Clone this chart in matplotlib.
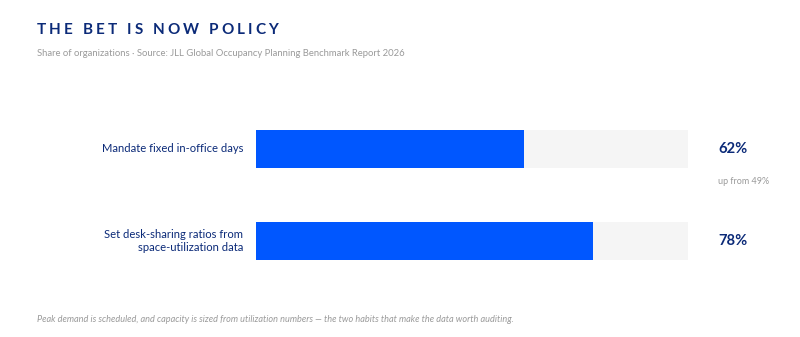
import matplotlib.pyplot as plt

plt.rcParams['font.family'] = ['Lato', 'DejaVu Sans']

labels = ['Mandate fixed in-office days', 'Set desk-sharing ratios from\nspace-utilization data']
values = [62, 78]
value_labels = ['62%', '78%']
notes = ['up from 49%', '']

NAVY = '#0b2a78'
BLUE = '#0057ff'
TRACK = '#f5f5f5'
GREY = '#9a9a9a'

W, H = 800, 337
fig = plt.figure(figsize=(W / 100, H / 100), dpi=100)

# bar area: x 256..688 px, y 130..260 px
ax = fig.add_axes([256 / W, (H - 260) / H, 432 / W, 130 / H])
h = 38 / 92
ax.barh(range(len(values)), [100] * len(values), height=h, color=TRACK)
ax.barh(range(len(values)), values, height=h, color=BLUE)
ax.set_xlim(0, 100)
ax.set_ylim(len(values) - 1 + h / 2, -h / 2)
ax.axis('off')

for i, (lab, v, vl, note) in enumerate(zip(labels, values, value_labels, notes)):
    ax.text(-13 / 4.32, i, lab, ha='right', va='center', color=NAVY,
            fontsize=8.1, linespacing=1.3)
    ax.text(100 + 30 / 4.32, i, vl, ha='left', va='center', color=NAVY,
            fontsize=10.6, fontweight='bold')
    if note:
        ax.text(100 + 30 / 4.32, i + 32 / 92, note, ha='left', va='center',
                color=GREY, fontsize=6.5)

# title with letter spacing, placed char by char
title = 'THE BET IS NOW POLICY'
fig.canvas.draw()
r = fig.canvas.get_renderer()
x = 37
for ch in title:
    t = fig.text(x / W, 1 - 34 / H, ch, fontsize=11, fontweight='bold',
                 color=NAVY, ha='left', va='baseline')
    bb = t.get_window_extent(r)
    if ch == ' ':
        w = 4
    else:
        w = bb.width
    x += w + 3.0

fig.text(37 / W, 1 - 53 / H,
         'Share of organizations \u00b7 Source: JLL Global Occupancy Planning Benchmark Report 2026',
         fontsize=6.8, color=GREY, ha='left', va='center')

fig.text(37 / W, 1 - 319 / H,
         'Peak demand is scheduled, and capacity is sized from utilization numbers \u2014 '
         'the two habits that make the data worth auditing.',
         fontsize=6.55, style='italic', color=GREY, ha='left', va='center')

fig.savefig('out.png', dpi=100, facecolor='white')
